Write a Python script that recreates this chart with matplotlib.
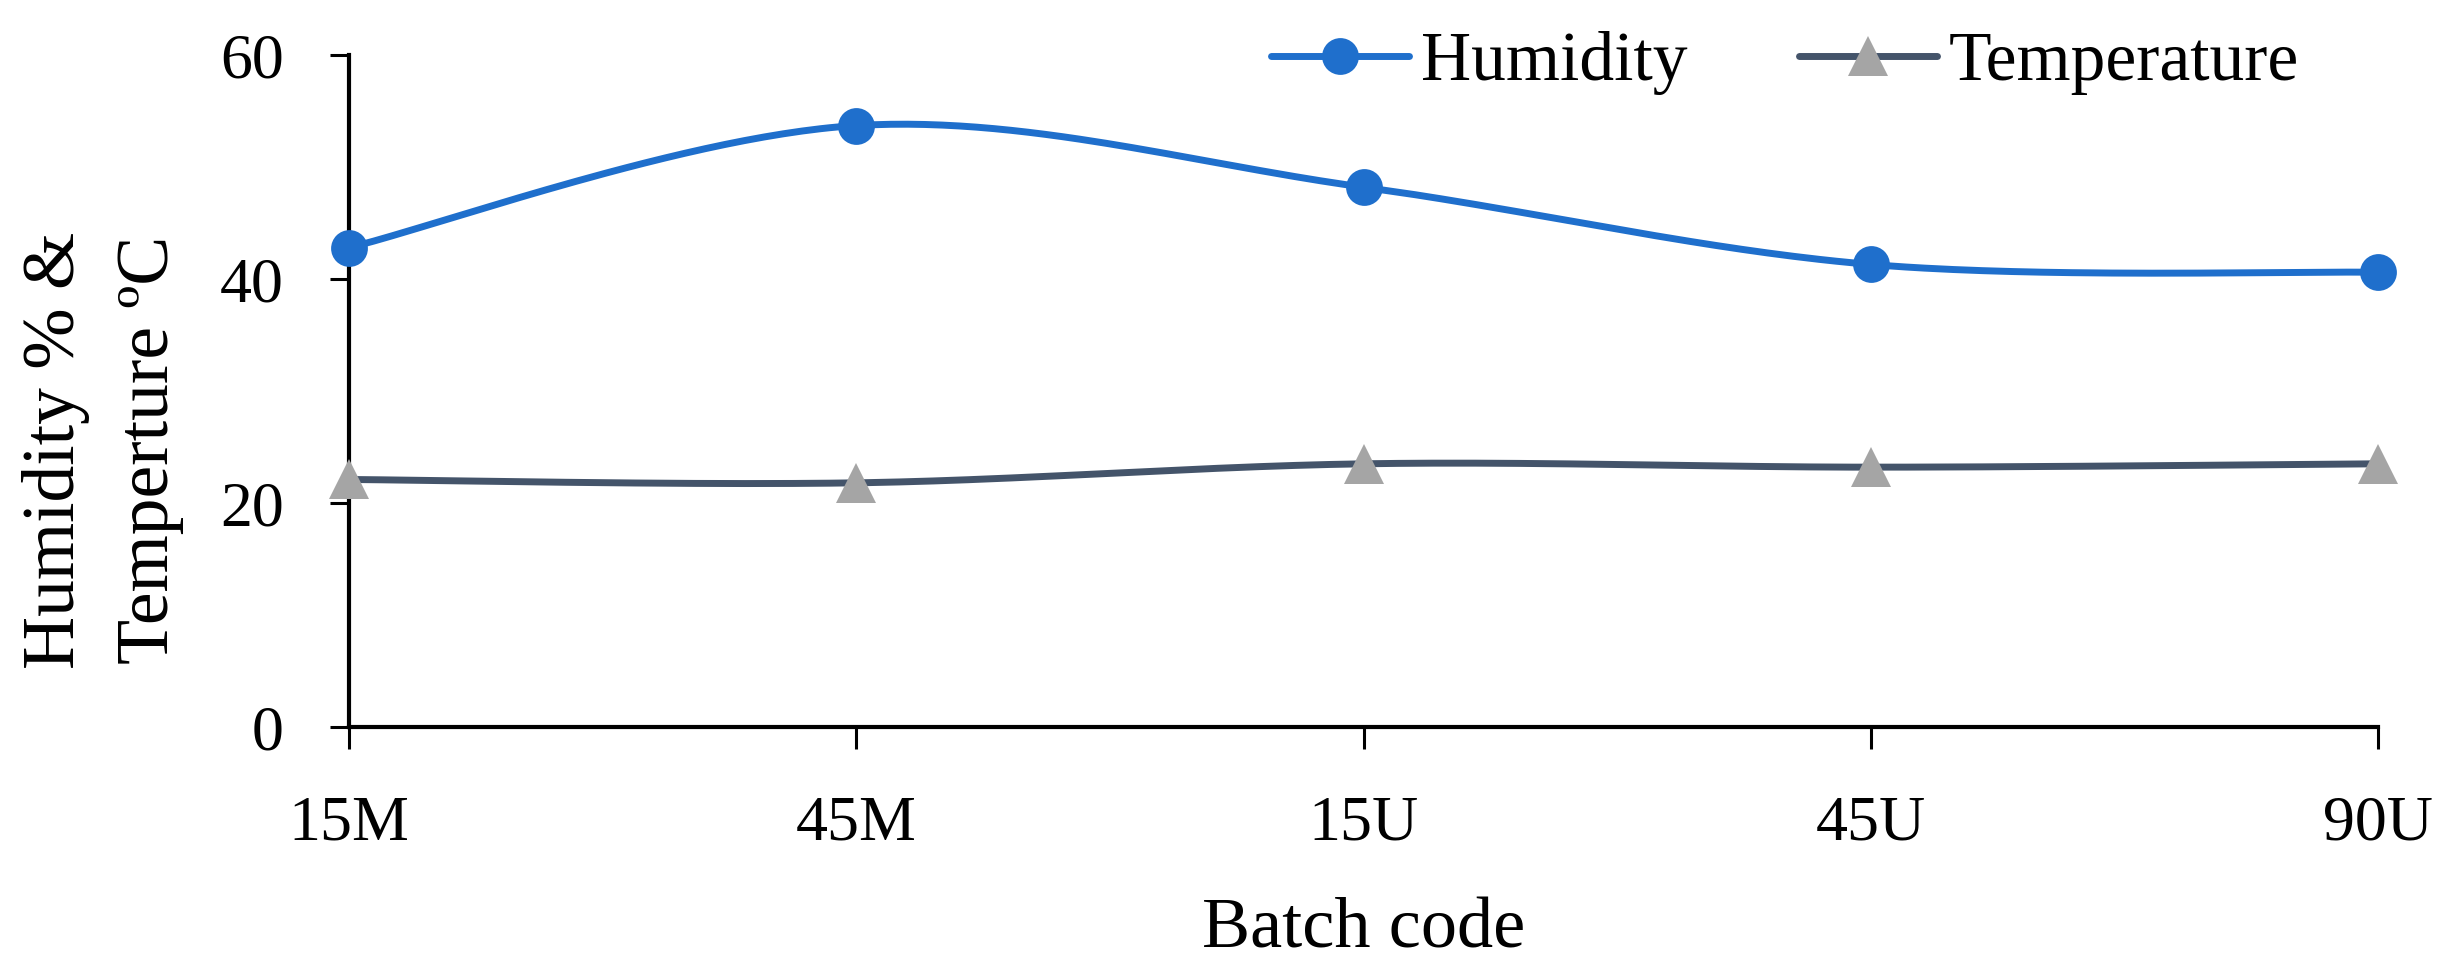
import numpy as np
import matplotlib
matplotlib.use("Agg")
import matplotlib.pyplot as plt

# ---- data ----
batches = ["15M", "45M", "15U", "45U", "90U"]
humidity = [42.8, 53.7, 48.2, 41.3, 40.6]
temperature = [22.1, 21.8, 23.5, 23.2, 23.5]
y_ticks = [0, 20, 40, 60]

HUM_COLOR = "#1F6FCC"
TEMP_COLOR = "#44546A"
TEMP_MARKER = "#A5A5A5"
FONT = "Liberation Serif"

plt.rcParams["font.family"] = [FONT, "DejaVu Serif"]


def smooth(xs, ys, n=60):
    """Excel-style Bezier smoothing through the given points."""
    pts = np.column_stack([xs, ys]).astype(float)
    m = len(pts)
    out = []
    for i in range(m - 1):
        p0 = pts[i - 1] if i > 0 else pts[i]
        p1 = pts[i]
        p2 = pts[i + 1]
        p3 = pts[i + 2] if i + 2 < m else pts[i + 1]
        c1 = p1 + (p2 - p0) / 6.0
        c2 = p2 - (p3 - p1) / 6.0
        t = np.linspace(0, 1, n)[:, None]
        seg = ((1 - t) ** 3) * p1 + 3 * ((1 - t) ** 2) * t * c1 + 3 * (1 - t) * t ** 2 * c2 + t ** 3 * p2
        if i > 0:
            seg = seg[1:]
        out.append(seg)
    out = np.vstack(out)
    return out[:, 0], out[:, 1]


fig = plt.figure(figsize=(24.4, 9.73), dpi=100)
W, H = 2440, 973
ax_left, ax_right, ax_top, ax_bottom = 349, 2378, 55, 727
ax = fig.add_axes([ax_left / W, 1 - ax_bottom / H, (ax_right - ax_left) / W, (ax_bottom - ax_top) / H])

x = np.arange(len(batches))

hx, hy = smooth(x, humidity)
tx, ty = smooth(x, temperature)

ax.plot(hx, hy, color=HUM_COLOR, lw=5, solid_capstyle="round", clip_on=False, zorder=3)
ax.plot(x, humidity, linestyle="none", marker="o", ms=26.5, mfc=HUM_COLOR, mec=HUM_COLOR, mew=0,
        clip_on=False, zorder=4)
ax.plot(tx, ty, color=TEMP_COLOR, lw=5, solid_capstyle="round", clip_on=False, zorder=3)
ax.plot(x, temperature, linestyle="none", marker="^", ms=29, mfc=TEMP_MARKER, mec=TEMP_MARKER, mew=0,
        clip_on=False, zorder=4)

# legend proxies
h1, = ax.plot([], [], color=HUM_COLOR, lw=5, marker="o", ms=26.5, mew=0, solid_capstyle="round")
h2, = ax.plot([], [], color=TEMP_COLOR, lw=5, marker="^", ms=29, mfc=TEMP_MARKER, mec=TEMP_MARKER, mew=0,
              solid_capstyle="round")
fig.legend([h1, h2], ["Humidity", "Temperature"], loc="center left",
           bbox_to_anchor=(1271 / W, 1 - 63 / H), bbox_transform=fig.transFigure,
           ncol=2, frameon=False, borderpad=0, borderaxespad=0,
           handlelength=1.99, handletextpad=0.17, columnspacing=1.6,
           prop={"family": FONT, "size": 50})

ax.set_xlim(0, len(batches) - 1)
ax.set_ylim(0, 60)
ax.set_xticks(x)
ax.set_xticklabels(batches)
ax.set_yticks(y_ticks)

for s in ["top", "right"]:
    ax.spines[s].set_visible(False)
for s in ["left", "bottom"]:
    ax.spines[s].set_linewidth(3)
    ax.spines[s].set_color("black")

ax.tick_params(axis="y", direction="out", length=14, width=2.2, pad=33, labelsize=46)
ax.tick_params(axis="x", direction="out", length=16, width=2.2, pad=33, labelsize=46)
for lab in ax.get_xticklabels() + ax.get_yticklabels():
    lab.set_fontfamily(FONT)

fig.text((ax_left + ax_right) / 2 / W, 1 - 948 / H, "Batch code", ha="center", va="baseline",
         fontsize=52, family=FONT)
fig.text(103 / W, 1 - 450 / H, "Humidity % &\nTemperture \u00baC", rotation=90, ha="center", va="center",
         multialignment="center", fontsize=53, family=FONT, linespacing=1.5)

fig.savefig("out.png", dpi=100)
